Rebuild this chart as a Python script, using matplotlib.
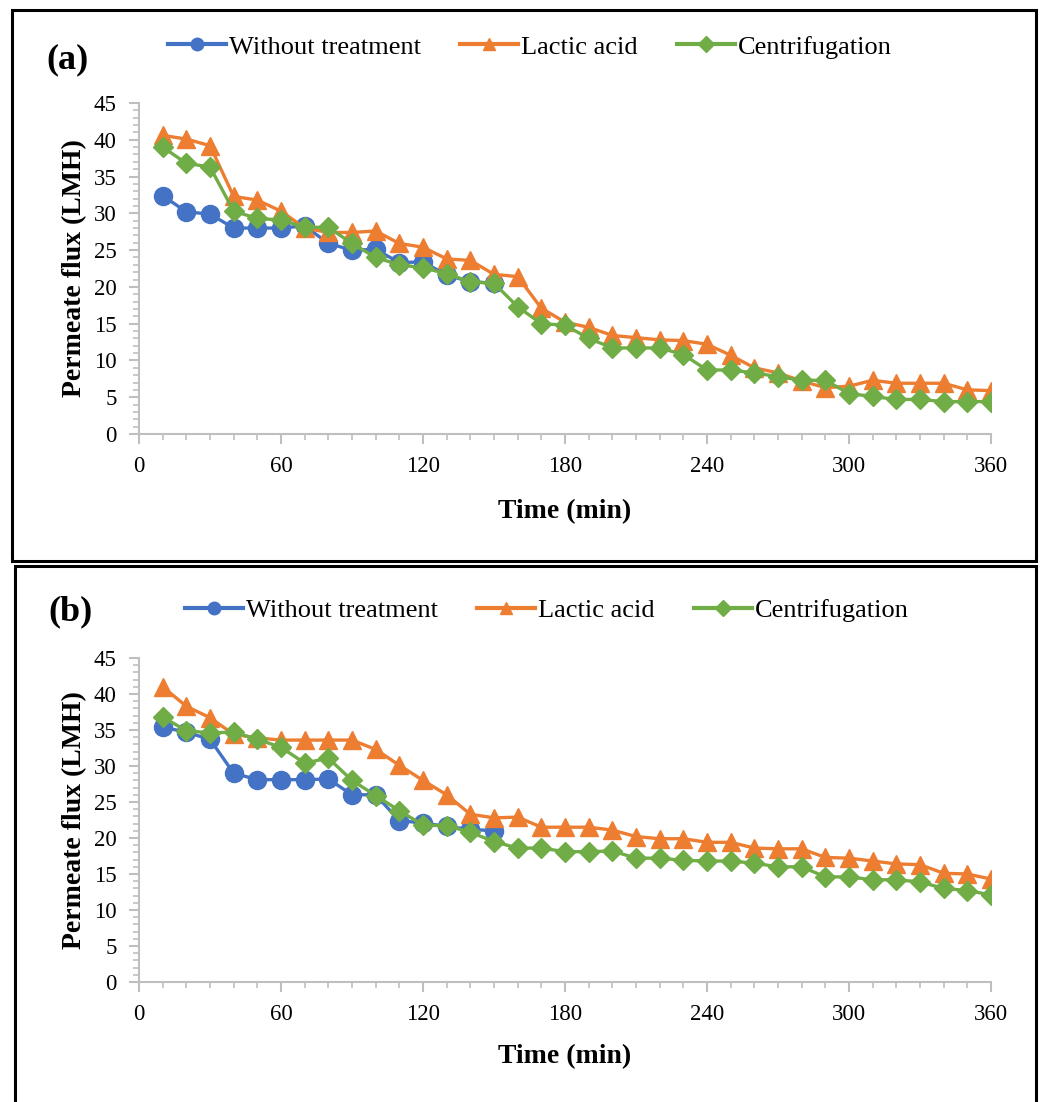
import numpy as np
import matplotlib.pyplot as plt
from matplotlib.lines import Line2D
from matplotlib.patches import Rectangle
from matplotlib.ticker import MultipleLocator

plt.rcParams['font.family'] = ['Liberation Serif', 'DejaVu Serif']

# time points (min)
time_all = list(range(10, 361, 10))
time_blue = list(range(10, 151, 10))

# panel (a)
blue_a = [32.4, 30.2, 29.9, 28.0, 28.0, 28.0, 28.3, 25.9, 25.0, 25.1, 23.3, 23.4, 21.6, 20.7, 20.5]
orange_a = [40.6, 40.1, 39.2, 32.3, 31.8, 30.3, 28.0, 27.4, 27.4, 27.6, 25.9, 25.4, 23.8, 23.6,
            21.7, 21.4, 17.1, 15.2, 14.5, 13.4, 13.1, 12.8, 12.7, 12.2, 10.7, 9.0, 8.3, 7.2,
            6.3, 6.5, 7.3, 6.9, 6.9, 6.9, 6.0, 5.9]
green_a = [39.0, 36.8, 36.3, 30.3, 29.3, 29.1, 28.1, 28.1, 25.9, 24.0, 23.0, 22.6, 21.8, 20.7,
           20.5, 17.3, 15.0, 14.8, 13.0, 11.7, 11.7, 11.7, 10.8, 8.7, 8.7, 8.3, 7.8, 7.3,
           7.3, 5.5, 5.1, 4.7, 4.7, 4.4, 4.4, 4.4]

# panel (b)
blue_b = [35.4, 34.7, 33.7, 29.0, 28.1, 28.1, 28.1, 28.2, 26.0, 26.0, 22.4, 22.1, 21.6, 21.2, 21.0]
orange_b = [41.0, 38.3, 36.7, 34.4, 33.9, 33.6, 33.6, 33.6, 33.6, 32.3, 30.1, 28.0, 26.0, 23.3,
            22.8, 22.9, 21.5, 21.5, 21.5, 21.1, 20.2, 19.9, 19.9, 19.4, 19.4, 18.6, 18.5, 18.5,
            17.3, 17.2, 16.8, 16.4, 16.3, 15.1, 15.0, 14.3]
green_b = [36.8, 34.9, 34.6, 34.7, 33.7, 32.6, 30.4, 31.1, 28.0, 25.9, 23.8, 21.8, 21.7, 20.8,
           19.5, 18.6, 18.6, 18.1, 18.1, 18.2, 17.2, 17.2, 16.9, 16.8, 16.8, 16.5, 16.0, 16.0,
           14.6, 14.6, 14.2, 14.2, 13.9, 13.0, 12.7, 12.1]

names = ["Without treatment", "Lactic acid", "Centrifugation"]
colors = ["#4472C4", "#ED7D31", "#70AD47"]
markers = ["o", "^", "D"]
msizes = [13, 13, 10]

W, H = 1042, 1102
fig = plt.figure(figsize=(W / 100, H / 100), dpi=100)

def px_rect(x0, y0, x1, y1):
    return [x0 / W, 1 - y1 / H, (x1 - x0) / W, (y1 - y0) / H]

panels = [
    ("(a)", [blue_a, orange_a, green_a], px_rect(139, 103, 991, 434), (12, 10, 1036, 561), 46, 60, 168, 47, 512),
    ("(b)", [blue_b, orange_b, green_b], px_rect(139, 658, 991, 982), (15, 566, 1036, 1110), 48, 612, 185, 610, 1057),
]

for label, series, rect, box, lx, ly, legx, legy, xly in panels:
    fig.patches.append(Rectangle((box[0] / W, 1 - box[3] / H), (box[2] - box[0]) / W,
                                 (box[3] - box[1]) / H, transform=fig.transFigure,
                                 fill=False, edgecolor="black", linewidth=2.2))
    ax = fig.add_axes(rect)
    for i, ys in enumerate(series):
        xs = time_blue if i == 0 else time_all
        ax.plot(xs, ys, color=colors[i], marker=markers[i], markersize=msizes[i],
                linewidth=2.4, zorder=3 + i)
    ax.set_xlim(0, 360)
    ax.set_ylim(0, 45)
    ax.xaxis.set_major_locator(MultipleLocator(60))
    ax.xaxis.set_minor_locator(MultipleLocator(10))
    ax.yaxis.set_major_locator(MultipleLocator(5))
    ax.yaxis.set_minor_locator(MultipleLocator(1))
    for s in ["top", "right"]:
        ax.spines[s].set_visible(False)
    for s in ["left", "bottom"]:
        ax.spines[s].set_color("#BFBFBF")
        ax.spines[s].set_linewidth(1.5)
    ax.tick_params(which="major", length=7, width=1.5, color="#BFBFBF", labelsize=16.5, pad=9)
    ax.tick_params(which="minor", length=4, width=1.2, color="#BFBFBF")
    ax.set_ylabel("Permeate flux (LMH)", fontsize=20, fontweight="bold", labelpad=5)
    fig.text((139 + 991) / 2 / W, 1 - xly / H, "Time (min)", fontsize=20, fontweight="bold",
             ha="center", va="center")
    fig.text(lx / W, 1 - ly / H, label, fontsize=26, fontweight="bold", ha="left", va="center")

    handles = [Line2D([], [], color=colors[i], marker=markers[i], markersize=9 if i < 2 else 8,
                      linewidth=3) for i in range(3)]
    fig.legend(handles, names, loc="center left", bbox_to_anchor=(legx / W, 1 - legy / H),
               ncol=3, frameon=False, fontsize=19, handlelength=2.2, handletextpad=0.1,
               columnspacing=1.5, borderaxespad=0, borderpad=0)

fig.savefig("out.png", dpi=100)
